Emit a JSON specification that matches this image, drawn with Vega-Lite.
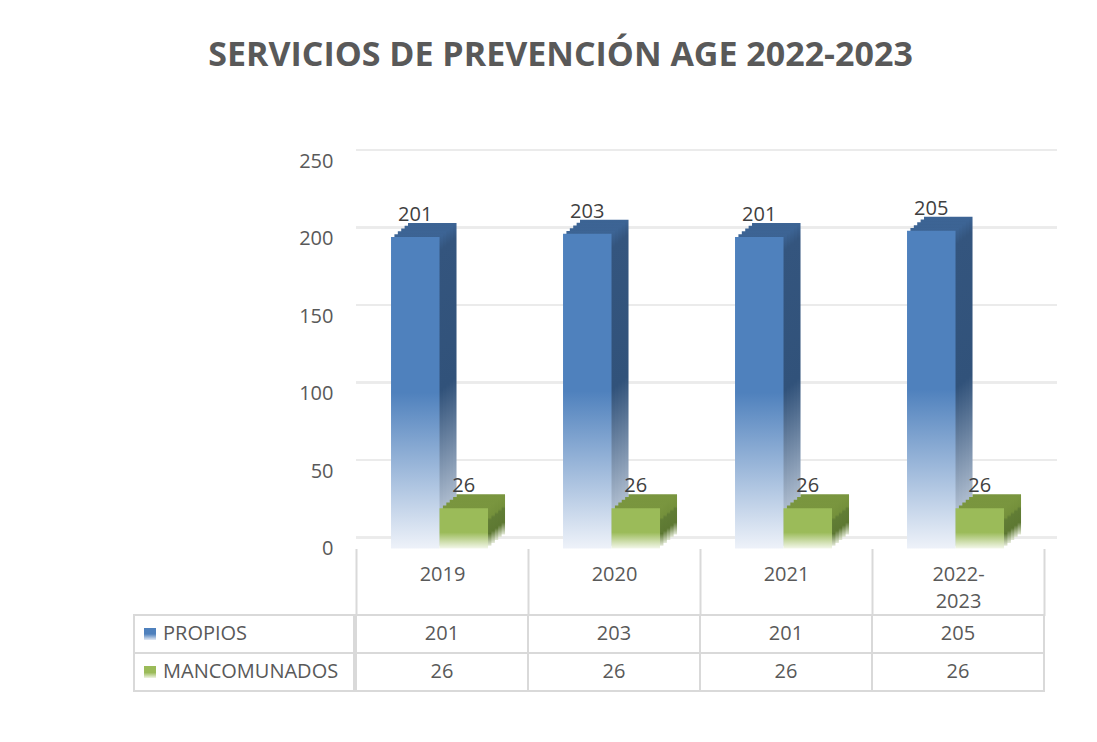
{
  "$schema": "https://vega.github.io/schema/vega-lite/v6.json",
  "data": {"values": [
    {"periodo": "2019", "serie": "PROPIOS", "valor": 201},
    {"periodo": "2020", "serie": "PROPIOS", "valor": 203},
    {"periodo": "2021", "serie": "PROPIOS", "valor": 201},
    {"periodo": "2022-2023", "serie": "PROPIOS", "valor": 205},
    {"periodo": "2019", "serie": "MANCOMUNADOS", "valor": 26},
    {"periodo": "2020", "serie": "MANCOMUNADOS", "valor": 26},
    {"periodo": "2021", "serie": "MANCOMUNADOS", "valor": 26},
    {"periodo": "2022-2023", "serie": "MANCOMUNADOS", "valor": 26}
  ]},
  "title": {"text": "SERVICIOS DE PREVENCIÓN AGE 2022-2023", "font": "Open Sans", "fontSize": 34, "fontWeight": "bold", "color": "#595959", "anchor": "middle", "dx": -35, "offset": 76},
  "padding": {"left": 133, "top": 39, "right": 0, "bottom": 0},
  "bounds": "flush",
  "columns": 2,
  "spacing": {"row": 66, "column": 2},
  "concat": [
    {
      "width": 220, "height": 387.5,
      "data": {"values": []},
      "mark": {"type": "point", "opacity": 0},
      "encoding": {}
    },
    {
      "width": 688, "height": 387.5,
      "resolve": {"scale": {"xOffset": "independent"}},
      "encoding": {
        "y": {"field": "valor", "type": "quantitative", "scale": {"domain": [0, 250], "nice": false},
          "axis": {"values": [0, 50, 100, 150, 200, 250], "grid": false, "domain": false, "ticks": false, "labelFontSize": 20, "labelColor": "#595959", "labelPadding": 23, "title": null, "labelFont": "Open Sans"}}
      },
      "layer": [
        {"mark": {"type": "rule", "color": "#ebebeb", "strokeWidth": 2, "xOffset": 13, "x2Offset": 13, "yOffset": -11}, "encoding": {"y": {"datum": 0}}},
        {"mark": {"type": "rule", "color": "#ebebeb", "strokeWidth": 2, "xOffset": 13, "x2Offset": 13, "yOffset": -11}, "encoding": {"y": {"datum": 50}}},
        {"mark": {"type": "rule", "color": "#ebebeb", "strokeWidth": 2, "xOffset": 13, "x2Offset": 13, "yOffset": -11}, "encoding": {"y": {"datum": 100}}},
        {"mark": {"type": "rule", "color": "#ebebeb", "strokeWidth": 2, "xOffset": 13, "x2Offset": 13, "yOffset": -11}, "encoding": {"y": {"datum": 150}}},
        {"mark": {"type": "rule", "color": "#ebebeb", "strokeWidth": 2, "xOffset": 13, "x2Offset": 13, "yOffset": -11}, "encoding": {"y": {"datum": 200}}},
        {"mark": {"type": "rule", "color": "#ebebeb", "strokeWidth": 2, "xOffset": 13, "x2Offset": 13, "yOffset": -11}, "encoding": {"y": {"datum": 250}}},
        {
          "transform": [{"filter": "datum.serie == 'PROPIOS'"}],
          "mark": {"type": "bar", "yOffset": -14, "y2Offset": -14,
            "fill": {"gradient": "linear", "x1": 0, "y1": 0, "x2": 0, "y2": 1, "stops": [{"offset": 0, "color": "#3d6596"}, {"offset": 0.05, "color": "#34557e"}, {"offset": 0.5, "color": "#31527a"}, {"offset": 1, "color": "#d3dce8"}]}},
          "encoding": {
            "x": {"field": "periodo", "type": "nominal", "sort": null, "scale": {"paddingInner": 0, "paddingOuter": 0},
              "axis": {"title": null, "domain": false, "tickBand": "extent", "tickSize": 67, "tickColor": "#d9d9d9", "tickWidth": 2, "labelFontSize": 20, "labelFont": "Open Sans", "labelColor": "#595959", "labelPadding": -51, "labelAngle": 0, "labelBaseline": "top", "labelLineHeight": 27, "labelExpr": "datum.label == '2022-2023' ? ['2022-', '2023'] : datum.label"}},
            "xOffset": {"field": "serie", "type": "nominal", "sort": ["PROPIOS", "MANCOMUNADOS"], "scale": {"type": "band", "domain": ["PROPIOS", "MANCOMUNADOS"], "range": [17, 189], "paddingInner": 0, "paddingOuter": 0.773, "align": 0.467}}
          }
        },
        {
          "transform": [{"filter": "datum.serie == 'PROPIOS'"}],
          "mark": {"type": "bar", "yOffset": -11.2, "y2Offset": -11.2,
            "fill": {"gradient": "linear", "x1": 0, "y1": 0, "x2": 0, "y2": 1, "stops": [{"offset": 0, "color": "#3d6596"}, {"offset": 0.05, "color": "#34557e"}, {"offset": 0.5, "color": "#31527a"}, {"offset": 1, "color": "#d3dce8"}]}},
          "encoding": {
            "x": {"field": "periodo", "type": "nominal", "sort": null},
            "xOffset": {"field": "serie", "type": "nominal", "sort": ["PROPIOS", "MANCOMUNADOS"], "scale": {"type": "band", "domain": ["PROPIOS", "MANCOMUNADOS"], "range": [13.6, 185.6], "paddingInner": 0, "paddingOuter": 0.773, "align": 0.467}}
          }
        },
        {
          "transform": [{"filter": "datum.serie == 'PROPIOS'"}],
          "mark": {"type": "bar", "yOffset": -8.4, "y2Offset": -8.4,
            "fill": {"gradient": "linear", "x1": 0, "y1": 0, "x2": 0, "y2": 1, "stops": [{"offset": 0, "color": "#3d6596"}, {"offset": 0.05, "color": "#34557e"}, {"offset": 0.5, "color": "#31527a"}, {"offset": 1, "color": "#d3dce8"}]}},
          "encoding": {
            "x": {"field": "periodo", "type": "nominal", "sort": null},
            "xOffset": {"field": "serie", "type": "nominal", "sort": ["PROPIOS", "MANCOMUNADOS"], "scale": {"type": "band", "domain": ["PROPIOS", "MANCOMUNADOS"], "range": [10.2, 182.2], "paddingInner": 0, "paddingOuter": 0.773, "align": 0.467}}
          }
        },
        {
          "transform": [{"filter": "datum.serie == 'PROPIOS'"}],
          "mark": {"type": "bar", "yOffset": -5.6, "y2Offset": -5.6,
            "fill": {"gradient": "linear", "x1": 0, "y1": 0, "x2": 0, "y2": 1, "stops": [{"offset": 0, "color": "#3d6596"}, {"offset": 0.05, "color": "#34557e"}, {"offset": 0.5, "color": "#31527a"}, {"offset": 1, "color": "#d3dce8"}]}},
          "encoding": {
            "x": {"field": "periodo", "type": "nominal", "sort": null},
            "xOffset": {"field": "serie", "type": "nominal", "sort": ["PROPIOS", "MANCOMUNADOS"], "scale": {"type": "band", "domain": ["PROPIOS", "MANCOMUNADOS"], "range": [6.8, 178.8], "paddingInner": 0, "paddingOuter": 0.773, "align": 0.467}}
          }
        },
        {
          "transform": [{"filter": "datum.serie == 'PROPIOS'"}],
          "mark": {"type": "bar", "yOffset": -2.8, "y2Offset": -2.8,
            "fill": {"gradient": "linear", "x1": 0, "y1": 0, "x2": 0, "y2": 1, "stops": [{"offset": 0, "color": "#3d6596"}, {"offset": 0.05, "color": "#34557e"}, {"offset": 0.5, "color": "#31527a"}, {"offset": 1, "color": "#d3dce8"}]}},
          "encoding": {
            "x": {"field": "periodo", "type": "nominal", "sort": null},
            "xOffset": {"field": "serie", "type": "nominal", "sort": ["PROPIOS", "MANCOMUNADOS"], "scale": {"type": "band", "domain": ["PROPIOS", "MANCOMUNADOS"], "range": [3.4, 175.4], "paddingInner": 0, "paddingOuter": 0.773, "align": 0.467}}
          }
        },
        {
          "transform": [{"filter": "datum.serie == 'PROPIOS'"}],
          "mark": {"type": "bar",
            "fill": {"gradient": "linear", "x1": 0, "y1": 0, "x2": 0, "y2": 1, "stops": [{"offset": 0, "color": "#4f81bd"}, {"offset": 0.5, "color": "#4f81bd"}, {"offset": 1, "color": "#eef2f9"}]}},
          "encoding": {
            "x": {"field": "periodo", "type": "nominal", "sort": null},
            "xOffset": {"field": "serie", "type": "nominal", "sort": ["PROPIOS", "MANCOMUNADOS"], "scale": {"type": "band", "domain": ["PROPIOS", "MANCOMUNADOS"], "paddingInner": 0, "paddingOuter": 0.773, "align": 0.467}}
          }
        },
        {
          "transform": [{"filter": "datum.serie == 'MANCOMUNADOS'"}],
          "mark": {"type": "bar", "yOffset": -14, "y2Offset": -14,
            "fill": {"gradient": "linear", "x1": 0, "y1": 0, "x2": 0, "y2": 1, "stops": [{"offset": 0, "color": "#7a963f"}, {"offset": 0.3, "color": "#74903b"}, {"offset": 0.36, "color": "#617d35"}, {"offset": 0.7, "color": "#5d7832"}, {"offset": 1, "color": "#e4ead8"}]}},
          "encoding": {
            "x": {"field": "periodo", "type": "nominal", "sort": null},
            "xOffset": {"field": "serie", "type": "nominal", "sort": ["PROPIOS", "MANCOMUNADOS"], "scale": {"type": "band", "domain": ["PROPIOS", "MANCOMUNADOS"], "range": [17, 189], "paddingInner": 0, "paddingOuter": 0.773, "align": 0.467}}
          }
        },
        {
          "transform": [{"filter": "datum.serie == 'MANCOMUNADOS'"}],
          "mark": {"type": "bar", "yOffset": -11.2, "y2Offset": -11.2,
            "fill": {"gradient": "linear", "x1": 0, "y1": 0, "x2": 0, "y2": 1, "stops": [{"offset": 0, "color": "#7a963f"}, {"offset": 0.3, "color": "#74903b"}, {"offset": 0.36, "color": "#617d35"}, {"offset": 0.7, "color": "#5d7832"}, {"offset": 1, "color": "#e4ead8"}]}},
          "encoding": {
            "x": {"field": "periodo", "type": "nominal", "sort": null},
            "xOffset": {"field": "serie", "type": "nominal", "sort": ["PROPIOS", "MANCOMUNADOS"], "scale": {"type": "band", "domain": ["PROPIOS", "MANCOMUNADOS"], "range": [13.6, 185.6], "paddingInner": 0, "paddingOuter": 0.773, "align": 0.467}}
          }
        },
        {
          "transform": [{"filter": "datum.serie == 'MANCOMUNADOS'"}],
          "mark": {"type": "bar", "yOffset": -8.4, "y2Offset": -8.4,
            "fill": {"gradient": "linear", "x1": 0, "y1": 0, "x2": 0, "y2": 1, "stops": [{"offset": 0, "color": "#7a963f"}, {"offset": 0.3, "color": "#74903b"}, {"offset": 0.36, "color": "#617d35"}, {"offset": 0.7, "color": "#5d7832"}, {"offset": 1, "color": "#e4ead8"}]}},
          "encoding": {
            "x": {"field": "periodo", "type": "nominal", "sort": null},
            "xOffset": {"field": "serie", "type": "nominal", "sort": ["PROPIOS", "MANCOMUNADOS"], "scale": {"type": "band", "domain": ["PROPIOS", "MANCOMUNADOS"], "range": [10.2, 182.2], "paddingInner": 0, "paddingOuter": 0.773, "align": 0.467}}
          }
        },
        {
          "transform": [{"filter": "datum.serie == 'MANCOMUNADOS'"}],
          "mark": {"type": "bar", "yOffset": -5.6, "y2Offset": -5.6,
            "fill": {"gradient": "linear", "x1": 0, "y1": 0, "x2": 0, "y2": 1, "stops": [{"offset": 0, "color": "#7a963f"}, {"offset": 0.3, "color": "#74903b"}, {"offset": 0.36, "color": "#617d35"}, {"offset": 0.7, "color": "#5d7832"}, {"offset": 1, "color": "#e4ead8"}]}},
          "encoding": {
            "x": {"field": "periodo", "type": "nominal", "sort": null},
            "xOffset": {"field": "serie", "type": "nominal", "sort": ["PROPIOS", "MANCOMUNADOS"], "scale": {"type": "band", "domain": ["PROPIOS", "MANCOMUNADOS"], "range": [6.8, 178.8], "paddingInner": 0, "paddingOuter": 0.773, "align": 0.467}}
          }
        },
        {
          "transform": [{"filter": "datum.serie == 'MANCOMUNADOS'"}],
          "mark": {"type": "bar", "yOffset": -2.8, "y2Offset": -2.8,
            "fill": {"gradient": "linear", "x1": 0, "y1": 0, "x2": 0, "y2": 1, "stops": [{"offset": 0, "color": "#7a963f"}, {"offset": 0.3, "color": "#74903b"}, {"offset": 0.36, "color": "#617d35"}, {"offset": 0.7, "color": "#5d7832"}, {"offset": 1, "color": "#e4ead8"}]}},
          "encoding": {
            "x": {"field": "periodo", "type": "nominal", "sort": null},
            "xOffset": {"field": "serie", "type": "nominal", "sort": ["PROPIOS", "MANCOMUNADOS"], "scale": {"type": "band", "domain": ["PROPIOS", "MANCOMUNADOS"], "range": [3.4, 175.4], "paddingInner": 0, "paddingOuter": 0.773, "align": 0.467}}
          }
        },
        {
          "transform": [{"filter": "datum.serie == 'MANCOMUNADOS'"}],
          "mark": {"type": "bar",
            "fill": {"gradient": "linear", "x1": 0, "y1": 0, "x2": 0, "y2": 1, "stops": [{"offset": 0, "color": "#9bbb59"}, {"offset": 0.6, "color": "#9bbb59"}, {"offset": 1, "color": "#f3f7ea"}]}},
          "encoding": {
            "x": {"field": "periodo", "type": "nominal", "sort": null},
            "xOffset": {"field": "serie", "type": "nominal", "sort": ["PROPIOS", "MANCOMUNADOS"], "scale": {"type": "band", "domain": ["PROPIOS", "MANCOMUNADOS"], "paddingInner": 0, "paddingOuter": 0.773, "align": 0.467}}
          }
        },
        {
          "mark": {"type": "text", "font": "Open Sans", "fontSize": 20, "color": "#404040", "baseline": "alphabetic", "dy": -16},
          "encoding": {
            "x": {"field": "periodo", "type": "nominal", "sort": null},
            "xOffset": {"field": "serie", "type": "nominal", "sort": ["PROPIOS", "MANCOMUNADOS"], "scale": {"type": "band", "domain": ["PROPIOS", "MANCOMUNADOS"], "paddingInner": 0, "paddingOuter": 0.773, "align": 0.467}},
            "text": {"field": "valor", "type": "quantitative"}
          }
        }
      ]
    },
    {
      "width": 220, "height": 76,
      "transform": [{"aggregate": [{"op": "sum", "field": "valor", "as": "total"}], "groupby": ["serie"]}],
      "encoding": {
        "y": {"field": "serie", "type": "nominal", "sort": ["PROPIOS", "MANCOMUNADOS"], "scale": {"paddingInner": 0, "paddingOuter": 0}, "axis": null}
      },
      "layer": [
        {"mark": {"type": "rect", "fill": "white", "stroke": "#d9d9d9", "strokeWidth": 2}, "encoding": {"x": {"value": 0}, "x2": {"value": "width"}}},
        {
          "transform": [{"filter": "datum.serie == 'PROPIOS'"}],
          "mark": {"type": "square", "size": 144, "filled": true, "opacity": 1,
            "fill": {"gradient": "linear", "x1": 0, "y1": 0, "x2": 0, "y2": 1, "stops": [{"offset": 0, "color": "#4f81bd"}, {"offset": 0.5, "color": "#4f81bd"}, {"offset": 1, "color": "#e3eaf4"}]}},
          "encoding": {"x": {"value": 16}}
        },
        {
          "transform": [{"filter": "datum.serie == 'MANCOMUNADOS'"}],
          "mark": {"type": "square", "size": 144, "filled": true, "opacity": 1,
            "fill": {"gradient": "linear", "x1": 0, "y1": 0, "x2": 0, "y2": 1, "stops": [{"offset": 0, "color": "#9bbb59"}, {"offset": 0.55, "color": "#9bbb59"}, {"offset": 1, "color": "#eef3e2"}]}},
          "encoding": {"x": {"value": 16}}
        },
        {"mark": {"type": "text", "font": "Open Sans", "fontSize": 20, "color": "#595959", "align": "left", "baseline": "middle"}, "encoding": {"x": {"value": 29}, "text": {"field": "serie", "type": "nominal"}}}
      ]
    },
    {
      "width": 688, "height": 76,
      "encoding": {
        "x": {"field": "periodo", "type": "nominal", "sort": null, "scale": {"paddingInner": 0, "paddingOuter": 0}, "axis": null},
        "y": {"field": "serie", "type": "nominal", "sort": ["PROPIOS", "MANCOMUNADOS"], "scale": {"paddingInner": 0, "paddingOuter": 0}, "axis": null}
      },
      "layer": [
        {"mark": {"type": "rect", "fill": "white", "stroke": "#d9d9d9", "strokeWidth": 2}},
        {"mark": {"type": "text", "font": "Open Sans", "fontSize": 20, "color": "#595959", "baseline": "middle"}, "encoding": {"text": {"field": "valor", "type": "quantitative"}}}
      ]
    }
  ],
  "config": {"view": {"stroke": null}, "font": "Open Sans"}
}
